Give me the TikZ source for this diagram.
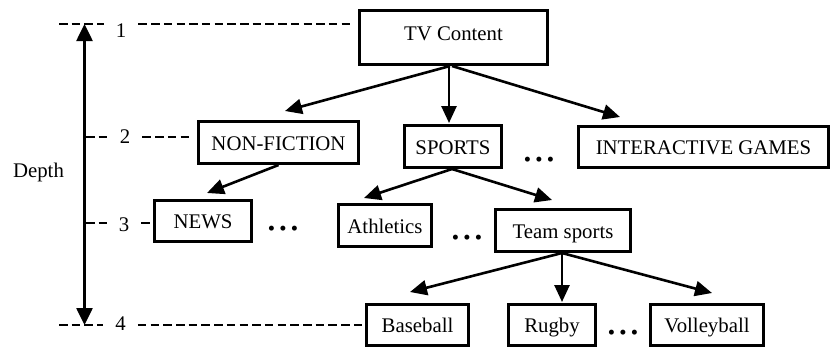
\documentclass[tikz,border=0pt]{standalone}
\usepackage{fontspec}
\setmainfont{Liberation Serif}
\usetikzlibrary{arrows.meta}

\begin{document}
\begin{tikzpicture}[x=1pt, y=-1pt,
  txt/.style={font=\fontsize{20.8}{24}\selectfont},
  box/.style={txt, draw, line width=2.7pt, inner sep=0pt,
    text height=15pt, text depth=0pt},
  lvlnum/.style={txt, inner xsep=12pt, inner ysep=0pt,
    text height=14pt, text depth=0pt},
  dotsnode/.style={txt, inner sep=0pt, text height=13.2pt, text depth=0pt},
  lvl/.style={line width=2.6pt, dash pattern=on 8.5pt off 4.2pt},
  arr/.style={line width=2.6pt, -{Triangle[length=17pt, width=15pt]}},
  depthaxis/.style={line width=2.6pt,
    {Triangle[length=17pt, width=16pt]}-{Triangle[length=17pt, width=16pt]}}
]
\useasboundingbox (0,0) rectangle (831,349);

% tree nodes
\node[box, minimum width=188.3pt, minimum height=54.3pt, text depth=10pt] (tv) at (453.5,37.5) {TV Content};
\node[box, minimum width=160.3pt, minimum height=42.3pt] (nf) at (278.5,142.5) {NON-FICTION};
\node[box, minimum width=97.3pt,  minimum height=42.3pt] (sp) at (453,146.5) {SPORTS};
\node[box, minimum width=250.3pt, minimum height=41.3pt] (ig) at (703.5,147) {INTERACTIVE GAMES};
\node[box, minimum width=97.3pt,  minimum height=41.3pt] (news) at (203,221) {NEWS};
\node[box, minimum width=93.3pt,  minimum height=42.3pt] (ath) at (385,225.5) {Athletics};
\node[box, minimum width=135.3pt, minimum height=42.3pt] (ts) at (563,230.5) {Team sports};
\node[box, minimum width=102.3pt, minimum height=41.3pt] (bb) at (417.5,325) {Baseball};
\node[box, minimum width=87.3pt,  minimum height=41.3pt] (rg) at (552,325) {Rugby};
\node[box, minimum width=113.3pt, minimum height=41.3pt] (vb) at (707,325) {Volleyball};

% omitted siblings
\node[dotsnode] (e1) at (539,160) {•\kern4.2pt•\kern4.2pt•};
\node[dotsnode] (e2) at (283,229) {•\kern4.2pt•\kern4.2pt•};
\node[dotsnode] (e3) at (467,237.7) {•\kern4.2pt•\kern4.2pt•};
\node[dotsnode] (e4) at (623,333) {•\kern4.2pt•\kern4.2pt•};

% tree edges
\draw[arr] ([xshift=-3.5pt]tv.south) -- ([xshift=6.5pt, yshift=9pt]nf.north);
\draw[arr] ([xshift=-4.5pt]tv.south) -- ([xshift=-4pt, yshift=1pt]sp.north);
\draw[arr] ([xshift=-1.5pt]tv.south) -- ([xshift=-83.5pt, yshift=8pt]ig.north);
\draw[arr] (nf.south) -- ([xshift=4pt, yshift=6pt]news.north);
\draw[arr] ([xshift=-1pt]sp.south) -- ([xshift=-21pt, yshift=5pt]ath.north);
\draw[arr] ([xshift=-1pt]sp.south) -- ([xshift=-11pt, yshift=8pt]ts.north);
\draw[arr] ([xshift=-1pt]ts.south) -- ([xshift=-7.5pt, yshift=11pt]bb.north);
\draw[arr] ([xshift=-1pt]ts.south) -- ([xshift=10pt, yshift=1pt]rg.north);
\draw[arr] ([xshift=-1pt]ts.south) -- ([xshift=5pt, yshift=10pt]vb.north);

% depth scale
\coordinate (top) at (84.5,24);
\coordinate (bot) at (84.5,325);
\coordinate (a1) at (59,24);
\coordinate (a2) at (86,137);
\coordinate (a3) at (86,223);
\coordinate (a4) at (59,325);

\node[lvlnum] (n1) at (121,30.5) {1};
\node[lvlnum] (n2) at (125,136) {2};
\node[lvlnum] (n3) at (124,224.5) {3};
\node[lvlnum] (n4) at (120.5,323.5) {4};
\node[txt, inner sep=0pt, text height=15pt, text depth=0pt] (depth) at (38.5,170) {Depth};

\draw[lvl] (a1) -- (n1.west |- a1);
\draw[lvl] (n1.east |- a1) -- ([xshift=-5pt]tv.west |- a1);
\draw[lvl] (a2) -- (n2.west |- a2);
\draw[lvl] (n2.east |- a2) -- ([xshift=-7pt]nf.west |- a2);
\draw[lvl] (a3) -- (n3.west |- a3);
\draw[lvl] (n3.east |- a3) -- (news.west |- a3);
\draw[lvl] (a4) -- (n4.west |- a4);
\draw[lvl] (n4.east |- a4) -- (bb.west |- a4);

\draw[depthaxis] (top) -- (bot);
\end{tikzpicture}
\end{document}
